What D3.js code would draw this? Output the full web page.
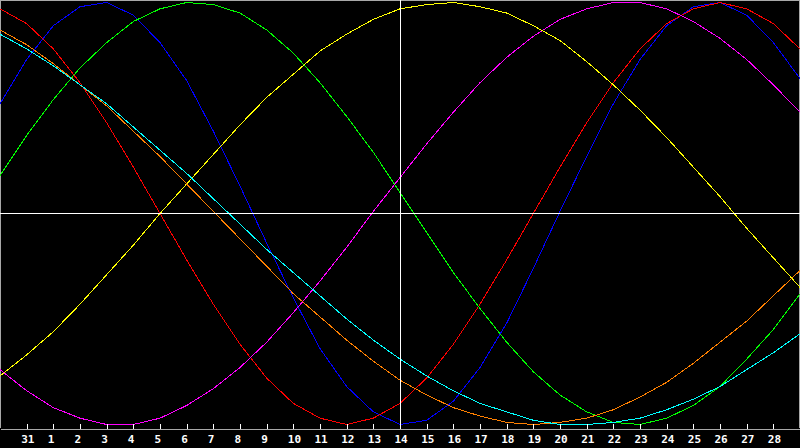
<!DOCTYPE html>
<html>
<head>
<meta charset="utf-8">
<script src="https://cdn.jsdelivr.net/npm/d3@7"></script>
<style>
  html, body { margin: 0; padding: 0; background: #000; }
  svg { display: block; }
</style>
</head>
<body>
<div id="chart"></div>
<script>
// day labels under the ticks (Jan 31 .. Feb 28)
const days = ["31", "1", "2", "3", "4", "5", "6", "7", "8", "9", "10", "11", "12", "13", "14",
  "15", "16", "17", "18", "19", "20", "21", "22", "23", "24", "25", "26", "27", "28"];

// one value per day column, 31 columns (index 0 .. 30), in percent
const cycle23 = [52, 73, 89, 98, 100, 94, 81, 63, 39, 13, -14, -40, -64, -82, -94, -100, -98, -89, -73, -52,
  -26, 1, 27, 52, 73, 89, 98, 100, 94, 81, 64];
const cycle28 = [97, 90, 78, 62, 43, 22, 0, -22, -43, -62, -78, -90, -97, -100, -97, -90, -78, -62, -43, -22,
  0, 22, 43, 62, 78, 90, 97, 100, 97, 90, 78];
const cycle33 = [18, 37, 54, 69, 81, 91, 97, 100, 99, 95, 87, 76, 62, 46, 29, 10, -9, -28, -45, -61,
  -75, -86, -94, -99, -100, -97, -91, -82, -69, -55, -38];
const cycle38 = [-74, -84, -92, -97, -100, -100, -97, -91, -83, -73, -61, -47, -32, -16, 1, 17, 33, 48, 62, 74,
  84, 92, 97, 100, 100, 97, 91, 83, 73, 61, 48];
const cycle43 = [-77, -67, -56, -43, -29, -15, 0, 14, 28, 42, 55, 66, 77, 85, 92, 97, 99, 100, 98, 95,
  89, 82, 72, 61, 49, 36, 22, 8, -7, -21, -35];
const cycle48 = [87, 80, 71, 61, 51, 39, 27, 14, 1, -12, -25, -38, -49, -60, -70, -79, -86, -92, -96, -99,
  -100, -99, -97, -93, -87, -80, -71, -61, -51, -39, -27];
const cycle53 = [85, 78, 70, 61, 52, 41, 30, 19, 7, -5, -17, -28, -39, -50, -60, -69, -77, -84, -90, -94,
  -98, -100, -100, -99, -97, -93, -88, -82, -74, -66, -57];

const series = [
  { name: "23", values: cycle23, color: "#0000ff" },
  { name: "28", values: cycle28, color: "#ff0000" },
  { name: "33", values: cycle33, color: "#00ff00" },
  { name: "38", values: cycle38, color: "#ff00ff" },
  { name: "43", values: cycle43, color: "#ffff00" },
  { name: "48", values: cycle48, color: "#ff8000" },
  { name: "53", values: cycle53, color: "#00ffff" }
];

const todayIndex = 15; // the "14" column

const width = 800, height = 448;
const plotBottom = 428;

const svg = d3.select("#chart")
  .append("svg")
  .attr("width", width)
  .attr("height", height)
  .style("background", "#000");

const x = d3.scaleLinear()
  .domain([0, 30])
  .range([0, width]);

const y = d3.scaleLinear()
  .domain([-100, 100])
  .range([424.5, 2.5]);

// frame
svg.append("path")
  .attr("d", `M0.5,${plotBottom} V0.5 H799.5 V${plotBottom}`)
  .attr("fill", "none")
  .attr("stroke", "#a8a8a8")
  .attr("shape-rendering", "crispEdges");

const line = d3.line()
  .x((d, i) => x(i))
  .y(d => y(d));

svg.selectAll(".cycle")
  .data(series)
  .enter().append("path")
  .attr("class", "cycle")
  .attr("d", d => line(d.values))
  .attr("fill", "none")
  .attr("stroke", d => d.color)
  .attr("stroke-width", 1)
  .attr("shape-rendering", "crispEdges");

// crosshair: zero line and today
svg.append("line")
  .attr("x1", 0).attr("x2", width)
  .attr("y1", y(0)).attr("y2", y(0))
  .attr("stroke", "#fff")
  .attr("shape-rendering", "crispEdges");

svg.append("line")
  .attr("x1", x(todayIndex) + 0.5).attr("x2", x(todayIndex) + 0.5)
  .attr("y1", 0).attr("y2", plotBottom)
  .attr("stroke", "#fff")
  .attr("shape-rendering", "crispEdges");

// bottom axis
const xAxis = d3.axisBottom(x)
  .tickValues(d3.range(1, days.length + 1))
  .tickFormat(d => days[d - 1])
  .tickSizeInner(-5)
  .tickSizeOuter(0);

const axisG = svg.append("g")
  .attr("transform", `translate(0,${plotBottom + 0.5})`)
  .call(xAxis);

axisG.select(".domain")
  .attr("stroke", "#a8a8a8")
  .attr("shape-rendering", "crispEdges");

axisG.selectAll(".tick line")
  .attr("stroke", "#fff")
  .attr("shape-rendering", "crispEdges");

axisG.selectAll(".tick text")
  .attr("fill", "#fff")
  .attr("text-anchor", "start")
  .attr("x", -6)
  .attr("y", 14)
  .attr("dy", 0)
  .style("font-family", "'DejaVu Sans Mono', monospace")
  .style("font-weight", "bold")
  .style("font-size", "11px");
</script>
</body>
</html>
